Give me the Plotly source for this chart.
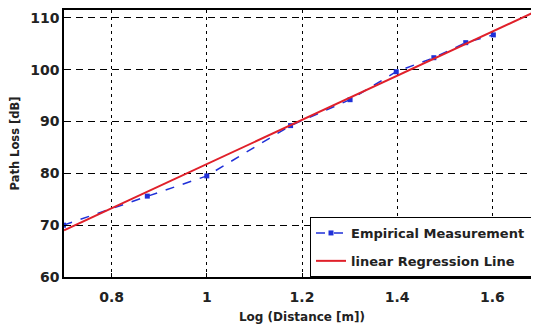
import plotly.graph_objects as go

# Data
meas_x = [0.699, 0.875, 1.0, 1.176, 1.301, 1.398, 1.477, 1.544, 1.602]
meas_y = [70.0, 75.6, 79.5, 89.2, 94.2, 99.6, 102.3, 105.2, 106.7]
reg_x = [0.7, 1.7]
reg_y = [69.0, 111.6]
x_ticks = [0.8, 1.0, 1.2, 1.4, 1.6]
x_tick_labels = ["0.8", "1", "1.2", "1.4", "1.6"]
y_ticks = [60, 70, 80, 90, 100, 110]
series_names = ["Empirical Measurement", "linear Regression Line"]

FONT = "DejaVu Sans"
PAD = "\u00a0\u00a0"

fig = go.Figure()
fig.add_trace(go.Scatter(
    x=meas_x, y=meas_y, mode="lines+markers", name=series_names[0] + PAD,
    legendgroup="a",
    line=dict(color="#1f30d8", width=1.5, dash="dash"),
    marker=dict(symbol="square", size=5, color="#1f30d8"),
))
fig.add_trace(go.Scatter(
    x=reg_x, y=reg_y, mode="lines", name=series_names[1] + PAD,
    legendgroup="b",
    line=dict(color="#e0202a", width=2),
))

axis_common = dict(
    showline=True, linecolor="black", linewidth=1.5, mirror=True,
    ticks="inside", ticklen=4, tickcolor="black",
    showgrid=True, gridcolor="black", gridwidth=1,
    zeroline=False,
    tickfont=dict(family=FONT, size=14, color="#222", weight="bold"),
)

fig.update_layout(
    width=534, height=316,
    margin=dict(l=56, r=0, t=1, b=47),
    paper_bgcolor="white", plot_bgcolor="white",
    xaxis=dict(range=[0.7, 1.7], tickvals=x_ticks, ticktext=x_tick_labels,
               griddash="3px,4px", ticklabelstandoff=6,
               title=dict(text="Log (Distance [m])", standoff=9,
                          font=dict(family=FONT, size=12, color="#222", weight="bold")),
               **axis_common),
    yaxis=dict(range=[60, 111.5], tickvals=y_ticks,
               griddash="7px,5px",
               title=dict(text="Path Loss [dB]", standoff=13,
                          font=dict(family=FONT, size=11.5, color="#222", weight="bold")),
               **axis_common),
    legend=dict(x=1.0, y=0.0, xanchor="right", yanchor="bottom",
                bgcolor="white", bordercolor="black", borderwidth=1,
                itemwidth=30,
                font=dict(family=FONT, size=13, color="#222", weight="bold"),
                tracegroupgap=8),
    showlegend=True,
)

fig.write_html("out.html")
